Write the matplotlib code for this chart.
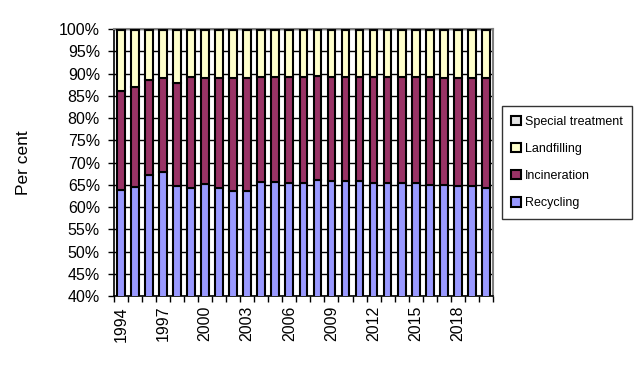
import numpy as np
import matplotlib.pyplot as plt
from matplotlib.ticker import FixedLocator, NullFormatter

plt.rcParams['font.family'] = ['Liberation Sans', 'DejaVu Sans']

# data (per cent of waste by treatment)
years = list(range(1994, 2021))
recycling = [63.9, 64.6, 67.3, 67.8, 64.8, 64.3, 65.1, 64.3, 63.7, 63.7,
             65.7, 65.7, 65.4, 65.5, 66.0, 65.8, 65.8, 65.8, 65.5, 65.5,
             65.4, 65.4, 65.0, 65.0, 64.8, 64.8, 64.3]
incineration_top = [86.0, 87.1, 88.5, 89.0, 88.0, 89.2, 89.0, 89.0, 89.0, 89.0,
                    89.2, 89.2, 89.2, 89.2, 89.5, 89.3, 89.3, 89.2, 89.2, 89.2,
                    89.2, 89.2, 89.2, 89.0, 89.0, 89.0, 89.0]
special = [0.3] * 27

recycling = np.array(recycling)
incineration = np.array(incineration_top) - recycling
special = np.array(special)
landfilling = 100 - recycling - incineration - special

x = np.arange(len(years))
w = 0.55

fig = plt.figure(figsize=(6.36, 3.73), dpi=100)
ax = fig.add_axes([0.179, 0.206, 0.596, 0.716])

kw = dict(width=w, edgecolor='black', linewidth=1.5, zorder=3)
b1 = ax.bar(x, recycling, color='#9999FF', label='Recycling', **kw)
b2 = ax.bar(x, incineration, bottom=recycling, color='#993366', label='Incineration', **kw)
b3 = ax.bar(x, landfilling, bottom=recycling + incineration, color='#FFFFCC', label='Landfilling', **kw)
b4 = ax.bar(x, special, bottom=recycling + incineration + landfilling, color='#E3E3E3',
            label='Special treatment', **kw)

ax.set_ylim(40, 100)
ax.set_xlim(-0.5, len(years) - 0.5)
yt = np.arange(40, 101, 5)
ax.set_yticks(yt)
ax.set_yticklabels([f'{v}%' for v in yt], fontsize=11.5)
ax.yaxis.grid(True, color='black', linewidth=1, zorder=0)
ax.set_axisbelow(True)

# ticks between categories, labels every 3 years
ax.xaxis.set_major_locator(FixedLocator(np.arange(-0.5, len(years), 1)))
ax.xaxis.set_major_formatter(NullFormatter())
lab_pos = x[::3]
ax.xaxis.set_minor_locator(FixedLocator(lab_pos))
ax.set_xticklabels([str(years[i]) for i in lab_pos], minor=True, rotation=90, fontsize=11.5)
ax.tick_params(axis='x', which='minor', length=0, pad=7)
ax.tick_params(axis='x', which='major', length=4, direction='out', width=1)
ax.tick_params(axis='y', length=4, direction='out', width=1, pad=6)

for s in ['top', 'right']:
    ax.spines[s].set_color('#808080')
    ax.spines[s].set_linewidth(1.5)
for s in ['left', 'bottom']:
    ax.spines[s].set_color('black')
    ax.spines[s].set_linewidth(1.2)

ax.set_ylabel('Per cent', fontsize=12.5, labelpad=20)

handles = [b4, b3, b2, b1]
leg = fig.legend(handles, [h.get_label() for h in handles], loc='upper left',
                 bbox_to_anchor=(0.789, 0.715), fontsize=9, frameon=True,
                 fancybox=False, edgecolor='black', labelspacing=1.2,
                 handlelength=0.8, handleheight=0.8, handletextpad=0.3,
                 borderpad=0.75, borderaxespad=0)
leg.get_frame().set_linewidth(1)

fig.savefig('out.png', dpi=100)
